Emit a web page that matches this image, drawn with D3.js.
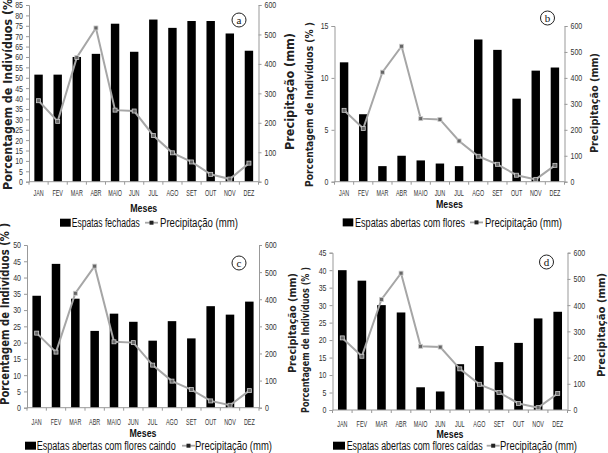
<!DOCTYPE html>
<html><head><meta charset="utf-8">
<script src="https://cdn.jsdelivr.net/npm/d3@7"></script>
<style>
body{margin:0;background:#fff;}
svg{display:block;}
</style></head>
<body><svg id="c" width="608" height="453"></svg>
<script>
const months = ["JAN","FEV","MAR","ABR","MAIO","JUN","JUL","AGO","SET","OUT","NOV","DEZ"];
const precipitation = [275, 205, 422, 522, 243, 240, 157, 98, 67, 25, 9, 63];
const espatasFechadas = [51.5, 51.5, 60, 61.5, 76, 62.5, 78, 74, 77.3, 77.3, 71.3, 63];
const abertasComFlores = [11.5, 6.5, 1.5, 2.5, 2.05, 1.75, 1.5, 13.7, 12.7, 8.0, 10.7, 11.0];
const floresCaindo = [34.4, 44.2, 33.5, 23.6, 28.9, 26.4, 20.6, 26.6, 21.3, 31.2, 28.6, 32.6];
const floresCaidas = [40.0, 37.0, 30.0, 27.9, 6.5, 5.3, 13.1, 18.3, 13.7, 19.2, 26.2, 28.1];
const leftTicksA = d3.range(0, 86, 5);
const leftTicksB = [0, 5, 10, 15];
const leftTicksC = d3.range(0, 51, 5);
const leftTicksD = d3.range(0, 46, 5);
const rightTicks = [0, 100, 200, 300, 400, 500, 600];
const legendNames = ["Espatas fechadas", "Espatas abertas com flores", "Espatas abertas com flores caindo", "Espatas abertas com flores caídas"];
const panelLetters = ["a", "b", "c", "d"];

const panels = [
  {values: espatasFechadas, max: 85, ticks: leftTicksA, x0: 29, x1: 258.5, yT: 5, yB: 181.7, xlY: 196, mY: 211.5,
   lg: {y: 227, rx: 60, rw: 10.7, t1x: 71.7, t1w: 68, mx: 145, t2x: 160, t2w: 78},
   cx: 239, cy: 20, lt: {x: 8, y: 90, s: 12, w: 200}, rt: {x: 290, y: 91.5, s: 11.5, w: 117}},
  {values: abertasComFlores, max: 15, ticks: leftTicksB, x0: 334.5, x1: 564.5, yT: 26, yB: 181.7, xlY: 196, mY: 208.3,
   lg: {y: 226.7, rx: 342.7, rw: 10.6, t1x: 355, t1w: 110, mx: 470, t2x: 485, t2w: 77},
   cx: 547.5, cy: 18, lt: {x: 310, y: 104.5, s: 10.5, w: 165}, rt: {x: 595, y: 103, s: 10.5, w: 100}},
  {values: floresCaindo, max: 50, ticks: leftTicksC, x0: 27, x1: 259, yT: 245, yB: 407.7, xlY: 425, mY: 436.7,
   lg: {y: 450, rx: 25, rw: 11, t1x: 36.7, t1w: 139, mx: 182, t2x: 195, t2w: 77},
   cx: 239, cy: 263, lt: {x: 5, y: 314, s: 12, w: 182}, rt: {x: 293, y: 323, s: 11, w: 100}},
  {values: floresCaidas, max: 45, ticks: leftTicksD, x0: 332.5, x1: 567.5, yT: 252.7, yB: 410, xlY: 426.7, mY: 437.7,
   lg: {y: 450, rx: 333, rw: 12, t1x: 346.7, t1w: 136, mx: 486.7, t2x: 500, t2w: 77},
   cx: 546.5, cy: 262, lt: {x: 306, y: 340, s: 10.5, w: 146}, rt: {x: 601.5, y: 325, s: 11, w: 104}}
];

const svg = d3.select("#c");
const lineGray = "#a6a6a6";
const sans = "Liberation Sans, Arial, sans-serif";

function condense(sel, f) {
  sel.each(function() {
    const w = this.getComputedTextLength();
    d3.select(this).attr("textLength", w * f).attr("lengthAdjust", "spacingAndGlyphs");
  });
  return sel;
}

panels.forEach((p, pi) => {
  const g = svg.append("g");
  const x = d3.scaleBand().domain(months).range([p.x0, p.x1]).paddingInner(0.56).paddingOuter(0.28);
  const y = d3.scaleLinear().domain([0, p.max]).range([p.yB, p.yT]);
  const y2 = d3.scaleLinear().domain([0, 600]).range([p.yB, p.yT]);

  g.selectAll("rect.bar").data(p.values).join("rect")
    .attr("x", (d, i) => x(months[i])).attr("width", x.bandwidth())
    .attr("y", d => y(d)).attr("height", d => p.yB - y(d)).attr("fill", "#000");

  const la = g.append("g").attr("transform", `translate(${p.x0},0)`)
    .call(d3.axisLeft(y).tickValues(p.ticks).tickSize(3).tickPadding(3));
  const ra = g.append("g").attr("transform", `translate(${p.x1},0)`)
    .call(d3.axisRight(y2).tickValues(rightTicks).tickSize(3).tickPadding(3));
  [la, ra].forEach(a => {
    a.select(".domain").attr("stroke", "#999");
    a.selectAll(".tick line").attr("stroke", "#999");
    const t = a.selectAll(".tick text").attr("font-family", sans).attr("font-size", 9).attr("fill", "#333");
    condense(t, 0.78);
  });

  const step = x.step();
  g.append("line").attr("x1", p.x0).attr("x2", p.x1).attr("y1", p.yB).attr("y2", p.yB).attr("stroke", "#999");
  g.selectAll("line.xt").data(d3.range(months.length + 1)).join("line")
    .attr("x1", i => p.x0 + i * step).attr("x2", i => p.x0 + i * step)
    .attr("y1", p.yB).attr("y2", p.yB + 3).attr("stroke", "#999");
  const xl = g.selectAll("text.xl").data(months).join("text")
    .attr("x", d => x(d) + x.bandwidth() / 2).attr("y", p.xlY).attr("font-family", sans)
    .attr("text-anchor", "middle").attr("font-size", 9).attr("fill", "#333").text(d => d);
  condense(xl, 0.6);

  const line = d3.line().x((d, i) => x(months[i]) + x.bandwidth() / 2).y(d => y2(d));
  g.append("path").datum(precipitation).attr("d", line).attr("fill", "none")
    .attr("stroke", lineGray).attr("stroke-width", 2);
  g.selectAll("rect.mk").data(precipitation).join("rect")
    .attr("x", (d, i) => x(months[i]) + x.bandwidth() / 2 - 2).attr("y", d => y2(d) - 2)
    .attr("width", 4).attr("height", 4).attr("fill", "#666").attr("stroke", "#ccc").attr("stroke-width", 0.8);

  g.append("text").attr("x", (p.x0 + p.x1) / 2).attr("y", p.mY).attr("font-family", sans)
    .attr("text-anchor", "middle").attr("font-size", 11.5).attr("font-weight", "bold").attr("fill", "#111")
    .attr("textLength", 27).attr("lengthAdjust", "spacingAndGlyphs").text("Meses");
  g.append("text").attr("transform", `translate(${p.lt.x},${p.lt.y}) rotate(-90)`)
    .attr("text-anchor", "middle").attr("dominant-baseline", "middle")
    .attr("font-family", "DejaVu Sans, sans-serif").attr("font-weight", "bold").attr("font-size", p.lt.s)
    .attr("textLength", p.lt.w).attr("lengthAdjust", "spacingAndGlyphs")
    .attr("fill", "#222").text("Porcentagem de Indivíduos (% )");
  g.append("text").attr("transform", `translate(${p.rt.x},${p.rt.y}) rotate(-90)`)
    .attr("text-anchor", "middle").attr("dominant-baseline", "middle")
    .attr("font-family", "DejaVu Sans, sans-serif").attr("font-weight", "bold").attr("font-size", p.rt.s)
    .attr("textLength", p.rt.w).attr("lengthAdjust", "spacingAndGlyphs")
    .attr("fill", "#222").text("Precipitação (mm)");

  g.append("circle").attr("cx", p.cx).attr("cy", p.cy).attr("r", 7).attr("fill", "#fff").attr("stroke", "#222").attr("stroke-width", 1);
  g.append("text").attr("x", p.cx).attr("y", p.cy + 3.5).attr("text-anchor", "middle")
    .attr("font-family", "Liberation Serif, serif").attr("font-size", 11).attr("fill", "#111").text(panelLetters[pi]);

  const L = p.lg;
  g.append("rect").attr("x", L.rx).attr("y", L.y - 8.3).attr("width", L.rw).attr("height", 8).attr("fill", "#000");
  g.append("text").attr("x", L.t1x).attr("y", L.y).attr("font-family", sans)
    .attr("font-size", 12).attr("fill", "#111")
    .attr("textLength", L.t1w).attr("lengthAdjust", "spacingAndGlyphs").text(legendNames[pi]);
  g.append("line").attr("x1", L.mx).attr("x2", L.mx + 13).attr("y1", L.y - 4.3).attr("y2", L.y - 4.3)
    .attr("stroke", lineGray).attr("stroke-width", 1.8);
  g.append("rect").attr("x", L.mx + 4.5).attr("y", L.y - 6.3).attr("width", 4).attr("height", 4).attr("fill", "#222");
  g.append("text").attr("x", L.t2x).attr("y", L.y).attr("font-family", sans)
    .attr("font-size", 12).attr("fill", "#111")
    .attr("textLength", L.t2w).attr("lengthAdjust", "spacingAndGlyphs").text("Precipitação (mm)");
});
</script></body></html>
